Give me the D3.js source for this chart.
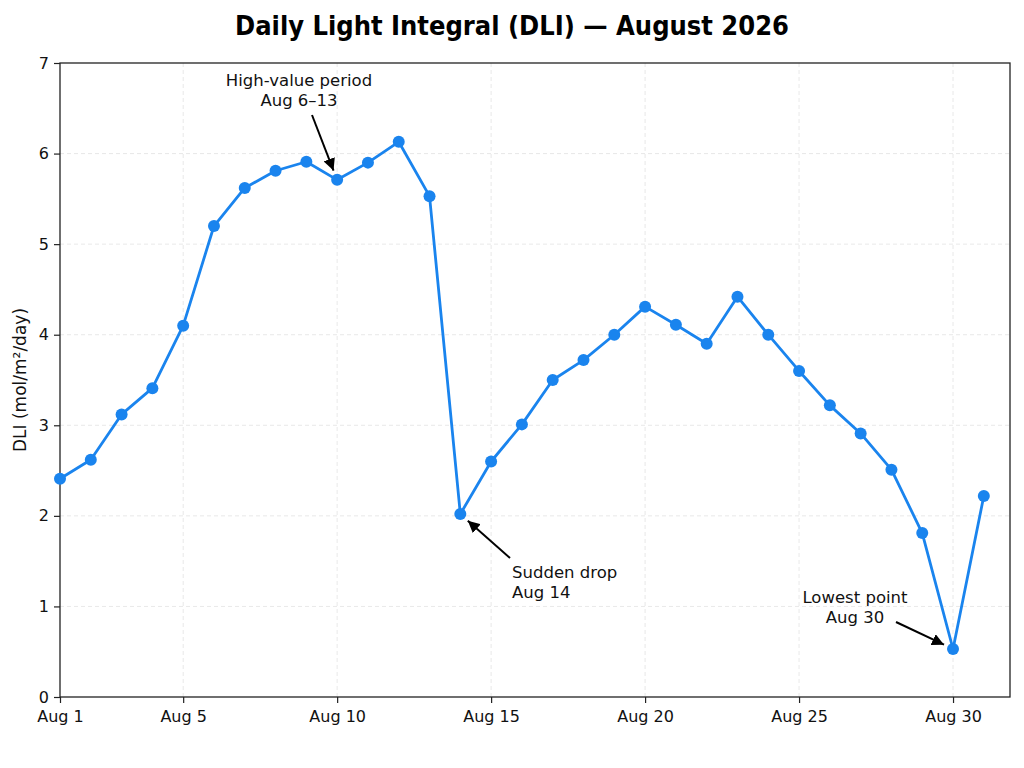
<!DOCTYPE html>
<html>
<head>
<meta charset="utf-8">
<script src="https://cdn.jsdelivr.net/npm/d3@7"></script>
<style>
  body { margin: 0; background: #fff; }
  svg text { font-family: "DejaVu Sans", sans-serif; }
</style>
</head>
<body>
<svg id="chart" width="1024" height="768"></svg>
<script>
// data
const days = d3.range(1, 32);
const dli = [2.41, 2.62, 3.12, 3.41, 4.10, 5.20, 5.62, 5.81, 5.91, 5.71,
             5.90, 6.13, 5.53, 2.02, 2.60, 3.01, 3.50, 3.72, 4.00, 4.31,
             4.11, 3.90, 4.42, 4.00, 3.60, 3.22, 2.91, 2.51, 1.81, 0.53, 2.22];
const xTicks = [1, 5, 10, 15, 20, 25, 30];
const yTicks = [0, 1, 2, 3, 4, 5, 6, 7];
const notes = [
  { day: 10, lines: ["High-value period", "Aug 6\u201313"], tx: 299, ty: 86, anchor: "middle", from: [312, 115] },
  { day: 14, lines: ["Sudden drop", "Aug 14"], tx: 512, ty: 578, anchor: "start", from: [510, 558] },
  { day: 30, lines: ["Lowest point", "Aug 30"], tx: 855, ty: 603, anchor: "middle", from: [896, 622] }
];

const svg = d3.select("#chart"),
      margin = { top: 63, right: 14, bottom: 71, left: 60 },
      width = 1024 - margin.left - margin.right,
      height = 768 - margin.top - margin.bottom;

const g = svg.append("g")
  .attr("transform", `translate(${margin.left},${margin.top})`);

const x = d3.scaleLinear().domain([1, 31.85]).range([0, width]);
const y = d3.scaleLinear().domain([0, 7]).range([height, 0]);

// grid
g.append("g").selectAll("line").data(yTicks.slice(1, -1)).join("line")
  .attr("x1", 0).attr("x2", width)
  .attr("y1", d => y(d)).attr("y2", d => y(d))
  .attr("stroke", "#e2e2e2").attr("stroke-dasharray", "4,3").attr("stroke-width", 0.8);
g.append("g").selectAll("line").data(xTicks.slice(1)).join("line")
  .attr("x1", d => x(d)).attr("x2", d => x(d))
  .attr("y1", 0).attr("y2", height)
  .attr("stroke", "#e2e2e2").attr("stroke-dasharray", "4,3").attr("stroke-width", 0.8);

// frame
g.append("rect").attr("width", width).attr("height", height)
  .attr("fill", "none").attr("stroke", "#222").attr("stroke-width", 1.3);

// axes
const xAxis = g.append("g")
  .attr("transform", `translate(0,${height})`)
  .call(d3.axisBottom(x).tickValues(xTicks).tickFormat(d => "Aug " + d).tickSize(6).tickPadding(8));
const yAxis = g.append("g")
  .call(d3.axisLeft(y).tickValues(yTicks).tickFormat(d3.format("d")).tickSize(6).tickPadding(5));
[xAxis, yAxis].forEach(a => {
  a.attr("font-size", 16);
  a.select(".domain").remove();
  a.selectAll("line").attr("stroke", "#222").attr("stroke-width", 1.2);
  a.selectAll("text").attr("fill", "#111")
    .style("font-family", "'DejaVu Sans', sans-serif");
});

// y label
svg.append("text")
  .attr("transform", `translate(26,${margin.top + height / 2}) rotate(-90)`)
  .attr("text-anchor", "middle")
  .attr("font-size", 17).attr("fill", "#111")
  .text("DLI (mol/m\u00b2/day)");

// title
svg.append("text")
  .attr("x", 512).attr("y", 35)
  .attr("text-anchor", "middle")
  .style("font-family", "'DejaVu Sans Condensed', 'DejaVu Sans', sans-serif")
  .attr("font-weight", "bold").attr("font-size", 27).attr("fill", "#000")
  .text("Daily Light Integral (DLI) \u2014 August 2026");

// line + points
const line = d3.line().x((d, i) => x(days[i])).y(d => y(d));
g.append("path").datum(dli)
  .attr("fill", "none").attr("stroke", "#1a84ee").attr("stroke-width", 2.8)
  .attr("stroke-linejoin", "round")
  .attr("d", line);
g.selectAll("circle.pt").data(dli).join("circle")
  .attr("class", "pt")
  .attr("cx", (d, i) => x(days[i])).attr("cy", d => y(d))
  .attr("r", 6).attr("fill", "#1a84ee");

// annotations
svg.append("defs").append("marker")
  .attr("id", "head").attr("viewBox", "0 0 10 10")
  .attr("refX", 10).attr("refY", 5)
  .attr("markerWidth", 6).attr("markerHeight", 6)
  .attr("markerUnits", "strokeWidth")
  .attr("orient", "auto")
  .append("path").attr("d", "M0,0 L10,5 L0,10 z").attr("fill", "#000");

notes.forEach(n => {
  const px = margin.left + x(n.day), py = margin.top + y(dli[n.day - 1]);
  const [fx, fy] = n.from;
  const dx = px - fx, dy = py - fy, len = Math.hypot(dx, dy);
  const gap = 10;
  svg.append("line")
    .attr("x1", fx).attr("y1", fy)
    .attr("x2", px - dx / len * gap).attr("y2", py - dy / len * gap)
    .attr("stroke", "#000").attr("stroke-width", 2)
    .attr("marker-end", "url(#head)");
  const t = svg.append("text")
    .attr("x", n.tx).attr("y", n.ty)
    .attr("text-anchor", n.anchor)
    .attr("font-size", 16.5).attr("fill", "#111");
  n.lines.forEach((s, i) => t.append("tspan").attr("x", n.tx).attr("dy", i ? 20 : 0).text(s));
});
</script>
</body>
</html>
